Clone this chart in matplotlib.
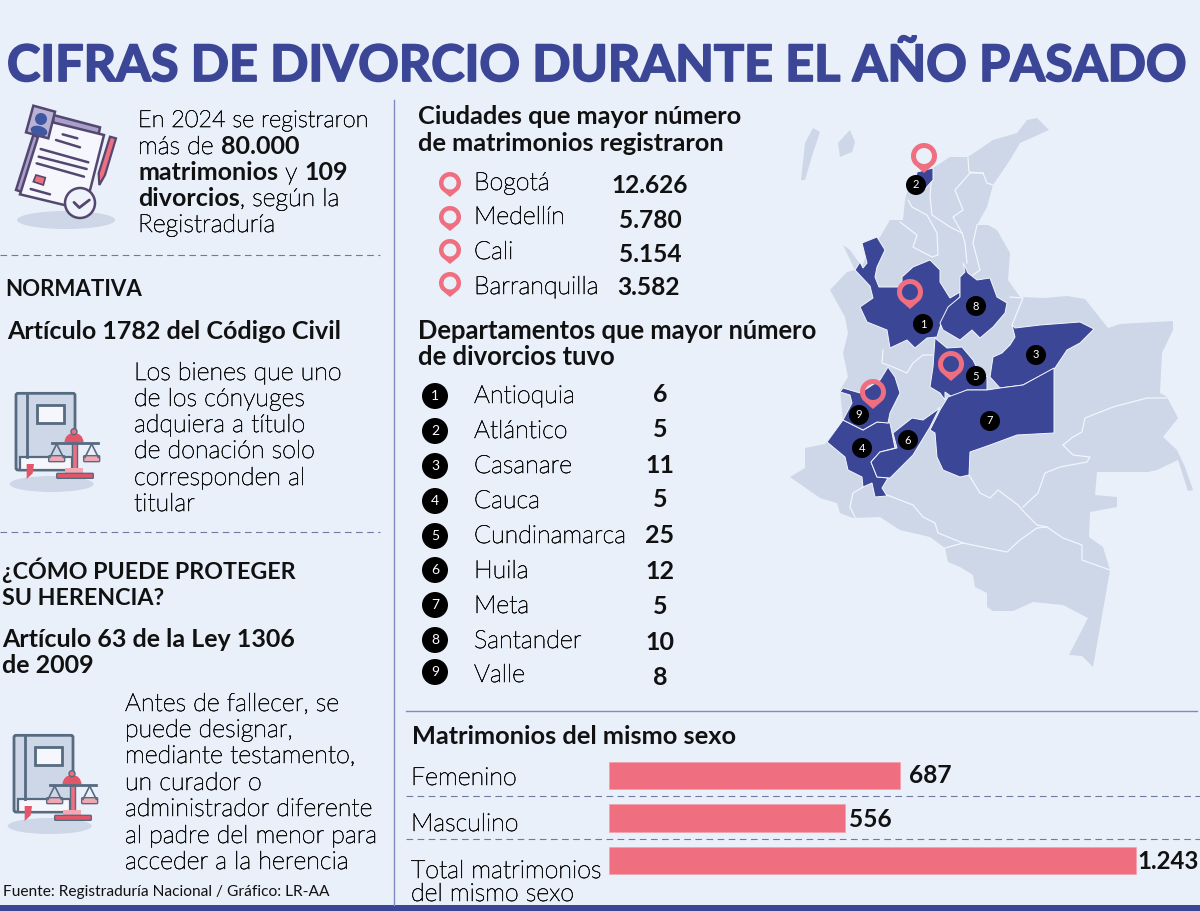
import matplotlib
matplotlib.use("Agg")
import matplotlib.pyplot as plt
import matplotlib.patheffects as pe
from matplotlib.patches import Polygon, Circle, Ellipse, Rectangle, FancyBboxPatch, Wedge, PathPatch
from matplotlib.path import Path
import numpy as np

# ------------------------------------------------------------------ data
TITLE = "CIFRAS DE DIVORCIO DURANTE EL AÑO PASADO"
cities = ["Bogotá", "Medellín", "Cali", "Barranquilla"]
city_values = ["12.626", "5.780", "5.154", "3.582"]
departments = ["Antioquia", "Atlántico", "Casanare", "Cauca", "Cundinamarca",
               "Huila", "Meta", "Santander", "Valle"]
divorces = [6, 5, 11, 5, 25, 12, 5, 10, 8]
same_sex_labels = ["Femenino", "Masculino", "Total matrimonios\ndel mismo sexo"]
same_sex_values = [687, 556, 1243]

BG = "#e9f0fa"; NAVY = "#3b4697"; LIGHT = "#cdd7e8"; PINK = "#ef6e80"; INK = "#111111"
LINEC = "#7f8bbf"; DASH = "#6f7a9e"
FAM = ["Lato", "DejaVu Sans"]

fig = plt.figure(figsize=(12, 9.11), dpi=100, facecolor=BG)
ax = fig.add_axes([0, 0, 1, 1]); ax.set_xlim(0, 1200); ax.set_ylim(911, 0); ax.axis("off")
px = 0.72

def T(x, y, s, size=25, weight="light", color=INK, ha="left", **kw):
    t = ax.text(x, y, s, fontsize=size * px, fontweight=weight, color=color, ha=ha,
                va="baseline", family=FAM, **kw)
    if weight == "light":
        t.set_path_effects([pe.withStroke(linewidth=0.45, foreground=color)])
    return t

def rich(x, y, parts, size=25):
    r = fig.canvas.get_renderer()
    for s, w in parts:
        t = T(x, y, s, size=size, weight="bold" if w else "light")
        x = t.get_window_extent(r).x1

# ------------------------------------------------------------------ frame
tt = ax.text(7, 81, TITLE, fontsize=50.3 * px, fontweight="bold", color=NAVY, ha="left", va="baseline", family=FAM)
tt.set_path_effects([pe.withStroke(linewidth=1.3, foreground=NAVY)])
ax.add_patch(Rectangle((0, 905), 1200, 6, color=NAVY, lw=0))
ax.plot([394, 394], [100, 905], color=LINEC, lw=1)
ax.plot([406, 1197], [711, 711], color=LINEC, lw=1)
for y, x0, x1 in [(255, 0, 380), (532, 0, 380), (796, 406, 1200), (839, 406, 1200)]:
    ax.plot([x0, x1], [y, y], color=DASH, lw=0.8, dashes=(6, 4))

# ------------------------------------------------------------------ left column
rich(138, 127, [("En 2024 se registraron", 0)], size=23.5)
rich(138, 154, [("más de ", 0), ("80.000", 1)])
rich(138, 180, [("matrimonios", 1), (" y ", 0), ("109", 1)])
rich(138, 206, [("divorcios", 1), (", según la", 0)])
rich(138, 232, [("Registraduría", 0)])
T(5, 296, "NORMATIVA", size=22.3, weight="bold")
T(7, 339, "Artículo 1782 del Código Civil", weight="bold")
for y, s in zip([380, 406, 432, 458, 485, 511],
                ["Los bienes que uno", "de los cónyuges", "adquiera a título",
                 "de donación solo", "corresponden al", "titular"]):
    T(134, y, s)
T(2, 579, "¿CÓMO PUEDE PROTEGER", size=23.2, weight="bold")
T(2, 605, "SU HERENCIA?", size=23.2, weight="bold")
T(2, 647, "Artículo 63 de la Ley 1306", weight="bold")
T(2, 673, "de 2009", weight="bold")
for y, s in zip([711, 737, 763, 790, 816, 843, 869],
                ["Antes de fallecer, se", "puede designar,", "mediante testamento,",
                 "un curador o", "administrador diferente", "al padre del menor para",
                 "acceder a la herencia"]):
    T(125, y, s)
T(3, 896, "Fuente: Registraduría Nacional / Gráfico: LR-AA", size=15.5, weight="normal")

# ------------------------------------------------------------------ middle lists
T(418, 124, "Ciudades que mayor número", size=25.4, weight="bold")
T(418, 151, "de matrimonios registraron", size=25.4, weight="bold")

def pin(cx, cy, r=13, tip=17, hole=8):
    """hollow location marker"""
    outer = [(cx + r * np.cos(t), cy + r * np.sin(t)) for t in np.linspace(np.deg2rad(140), np.deg2rad(400), 60)]
    outer.append((cx, cy + tip))
    ih = [(cx + hole * np.cos(t), cy + hole * np.sin(t)) for t in np.linspace(2 * np.pi, 0, 50)]
    verts = outer + [outer[0]] + ih + [ih[0]]
    codes = [Path.MOVETO] + [Path.LINETO] * (len(outer) - 1) + [Path.CLOSEPOLY] + \
            [Path.MOVETO] + [Path.LINETO] * (len(ih) - 1) + [Path.CLOSEPOLY]
    ax.add_patch(PathPatch(Path(verts, codes), fc=PINK, ec="none", zorder=8))

city_y = [190, 224, 259, 294]
val_y = [193, 228, 262, 295]
val_x = [611, 619, 619, 617]
pin_y = [183, 217, 250, 283]
for c, v, y, vy, vx, py in zip(cities, city_values, city_y, val_y, val_x, pin_y):
    T(474, y, c)
    T(vx, vy, v, size=24.5, weight="bold")
    pin(450, py, r=11, tip=14, hole=6.5)

T(418, 339, "Departamentos que mayor número", size=25.6, weight="bold")
T(418, 365, "de divorcios tuvo", size=25.6, weight="bold")
d_y = [403, 438, 473, 508, 543, 578, 613, 648, 682]
dv_y = [402, 437, 473, 507, 543, 579, 614, 650, 685]
dc_y = [396, 431, 466, 501, 536, 570, 605, 640, 672]
for i, (d, v, y, vy, cy) in enumerate(zip(departments, divorces, d_y, dv_y, dc_y)):
    T(474, y, d)
    T(660, vy, str(v), weight="bold", ha="center")
    ax.add_patch(Circle((435, cy), 13, fc="black", ec="none"))
    ax.text(435, cy, str(i + 1), color="white", fontsize=10, ha="center", va="center", family=FAM)

# ------------------------------------------------------------------ map (traced silhouette)
country = [(1037,118),(1049,130),(1020,143),(1010,160),(993,185),(987,207),(977,225),(988,225),(997,230),
 (1010,253),(1008,280),(1020,297),(1045,298),(1067,296),(1085,299),(1108,328),(1120,324),(1173,321),(1173,330),
 (1162,353),(1160,393),(1167,397),(1178,418),(1163,437),(1177,450),(1185,467),(1193,490),(1188,491),(1178,460),
 (1157,470),(1148,472),(1097,472),(1095,495),(1117,497),(1117,507),(1090,512),(1089,537),(1103,547),(1110,570),
 (1093,667),(1082,656),(1069,655),(1088,618),(1063,605),(1033,602),(1013,611),(993,611),(987,607),(987,593),
 (975,587),(973,575),(960,567),(948,562),(945,548),(930,537),(900,530),(880,517),(853,518),(840,513),(837,503),
 (820,498),(790,477),(805,468),(805,448),(825,444),(843,420),(840,390),(848,377),(843,353),(848,333),(845,317),
 (830,290),(847,272),(855,270),(843,245),(850,250),(862,267),(868,250),(880,237),(890,220),(903,220),(905,200),
 (908,188),(917,172),(933,168),(950,157),(968,157),(993,140),(1017,133),(1027,120)]
island_a = [(801,180),(805,180),(813,153),(820,132),(813,128),(805,143)]
island_b = [(838,143),(850,130),(855,142),(852,152),(840,157)]
region_1 = [(877,237),(885,250),(877,267),(875,277),(879,287),(902,287),(902,277),(913,267),(930,260),(940,270),
 (940,282),(945,290),(950,298),(960,292),(960,297),(947,310),(940,327),(937,337),(927,338),(915,348),(907,340),
 (890,348),(887,330),(867,322),(860,307),(873,298),(870,286),(855,270),(860,262),(863,268),(867,263),(862,243)]
region_2 = [(917,172),(933,168),(933,180),(925,189),(915,185)]
region_3 = [(1012,325),(1015,328),(1040,325),(1080,322),(1094,329),(1080,343),(1067,350),(1055,368),(1023,385),
 (1000,388),(990,377),(993,357),(1002,353),(1010,345),(1015,337)]
region_4 = [(827,442),(843,420),(863,430),(877,422),(890,423),(895,448),(880,452),(871,462),(877,477),(888,478),
 (882,488),(887,496),(875,497),(872,483),(863,487),(862,477),(848,470),(845,457)]
region_5 = [(935,338),(947,348),(962,347),(973,360),(977,368),(987,377),(987,390),(967,390),(952,397),(945,392),
 (945,400),(940,393),(930,387),(933,367)]
region_6 = [(893,433),(912,418),(923,420),(937,410),(940,407),(930,427),(913,455),(890,478),(877,477),(871,462),
 (880,452),(897,448)]
region_7 = [(1054,368),(1054,433),(1017,435),(990,445),(970,452),(969,475),(960,477),(943,470),(937,457),(935,433),
 (930,430),(940,410),(948,397),(967,390),(987,390),(1000,388),(1023,385)]
region_8 = [(963,263),(968,273),(977,280),(990,278),(997,297),(1007,303),(1005,313),(993,327),(980,338),(972,330),
 (960,340),(943,330),(940,323),(948,307),(960,297),(960,277),(965,272)]
region_9 = [(888,367),(895,377),(900,393),(890,413),(888,423),(877,422),(863,430),(843,420),(852,403),(850,395),
 (840,392),(843,388),(860,393),(880,380),(885,372)]
borders = [
 [(968,158),(969,172),(983,173),(987,183),(993,185)],
 [(932,170),(930,197),(932,215),(950,227),(962,233)],
 [(983,173),(970,173),(955,190),(963,210),(953,217),(962,233),(965,243),(967,263)],
 [(908,200),(912,207),(927,215),(937,233),(938,255),(932,257),(913,247),(917,235),(900,222)],
 [(977,225),(973,243),(980,270),(973,275)],
 [(1010,297),(1023,298),(1012,325)],
 [(883,350),(882,363),(893,367),(907,373),(913,363),(923,355),(933,355)],
 [(1063,445),(1073,437),(1082,432),(1085,418),(1113,407),(1147,398),(1167,398)],
 [(1063,445),(1073,455),(1090,457),(1087,462),(1060,467),(1045,473),(1038,493),(1023,507)],
 [(969,475),(980,493),(990,498),(998,490),(1018,505),(1025,513),(1037,525),(1047,527),(1063,538),(1082,545),(1082,560),(1110,570)],
 [(945,548),(963,543),(987,548),(1007,552),(1020,540),(1037,528),(1047,527)],
 [(887,495),(913,505),(923,517),(935,523),(938,533),(963,543)],
 [(863,487),(853,493),(850,507),(855,517)],
]
labels_xy = [(923,324),(916,185),(1036,355),(862,448),(976,376),(908,440),(990,421),(976,306),(859,415)]
pins_xy = [(924,156),(910,292),(951,364),(873,392)]

ax.add_patch(Polygon(country, fc=LIGHT, ec="none", zorder=2))
for isl in (island_a, island_b):
    ax.add_patch(Polygon(isl, fc=LIGHT, ec="none", zorder=2))
for b in borders:
    xs, ys = zip(*b)
    ax.plot(xs, ys, color="#f2f6fc", lw=0.9, zorder=3)
for reg in (region_1, region_2, region_3, region_4, region_5, region_6, region_7, region_8, region_9):
    ax.add_patch(Polygon(reg, fc=NAVY, ec="#f2f6fc", lw=0.7, zorder=4))
for i, (x, y) in enumerate(labels_xy):
    ax.add_patch(Circle((x, y), 10, fc="black", ec="none", zorder=6))
    ax.text(x, y, str(i + 1), color="white", fontsize=8, ha="center", va="center", family=FAM, zorder=7)
for x, y in pins_xy:
    pin(x, y)

# ------------------------------------------------------------------ same-sex bars (real data axis)
T(412, 744, "Matrimonios del mismo sexo", size=25.4, weight="bold")
bax = fig.add_axes([609 / 1200, 1 - 881 / 911, 591 / 1200, (881 - 755) / 911])
bax.set_facecolor("none"); bax.axis("off")
bax.set_xlim(0, 591 / 0.4241); bax.set_ylim(2.482, -0.482)
bars = bax.barh(range(3), same_sex_values, height=0.647, color=PINK, edgecolor="#f3a0ab", lw=0.5)
T(411, 785, same_sex_labels[0]); T(411, 831, same_sex_labels[1])
l1, l2 = same_sex_labels[2].split("\n")
T(411, 878, l1); T(411, 901, l2)
val_txt = [f"{v:,}".replace(",", ".") for v in same_sex_values]
T(909, 783, val_txt[0], size=24.5, weight="bold"); T(849, 827, val_txt[1], size=24.5, weight="bold")
T(1137, 869, val_txt[2], size=24, weight="bold")

# ------------------------------------------------------------------ icons
def z3(pts): return [(x / 3, 95 + y / 3) for x, y in pts]
DK = "#54476f"
ax.add_patch(Ellipse((66, 220), 98, 18, fc=LIGHT, ec="none"))
ax.add_patch(Polygon(z3([(100,120),(48,285),(70,292),(122,130)]), fc="#a99fcb", ec=DK, lw=1.8))
ax.add_patch(Polygon(z3([(160,60),(300,97),(296,118),(160,85)]), fc="#a99fcb", ec=DK, lw=1.8))
ax.add_patch(Polygon(z3([(130,75),(312,120),(255,345),(60,298)]), fc="#f6f7fc", ec=DK, lw=1.8))
ax.add_patch(Polygon(z3([(100,32),(165,50),(145,130),(78,112)]), fc="#b8b2d4", ec=DK, lw=1.8))
ax.add_patch(Circle((41, 119), 6, fc="#3f56a0", ec="none"))
ax.add_patch(Ellipse((39, 131), 17, 10, angle=15, fc="#3f56a0", ec="none"))
for a, b in [((188,118),(232,130)),((168,135),(240,157)),((122,162),(265,202)),((116,185),(260,222)),((110,205),(252,245)),((92,282),(150,298))]:
    p, q = z3([a, b])
    ax.plot([p[0], q[0]], [p[1], q[1]], color=DK, lw=1.8, solid_capstyle="round")
ax.add_patch(Polygon(z3([(108,240),(136,248),(130,270),(100,260)]), fc=PINK, ec=DK, lw=1.2))
ax.add_patch(Polygon(z3([(330,125),(348,130),(315,240),(298,270),(296,235)]), fc=PINK, ec=DK, lw=1.6))
ax.add_patch(Circle((80, 203), 15, fc="#eef2fa", ec=DK, lw=1.8))
p = z3([(222,322),(238,338),(268,315)])
ax.plot(*zip(*p), color=DK, lw=2, solid_capstyle="round")

def book(dx, dy):
    def z(x, y): return (dx + x / 3, dy + y / 3)
    S = "#566a80"
    ax.add_patch(Ellipse(z(155, 312), 84, 16, fc=LIGHT, ec="none"))
    x0, y0 = z(48, 40); x1, y1 = z(225, 270)
    ax.add_patch(FancyBboxPatch((x0 + 2, y0 + 2), x1 - x0 - 4, y1 - y0 - 4, boxstyle="round,pad=2", fc=LIGHT, ec=S, lw=2))
    ax.plot(*zip(z(82, 42), z(82, 232)), color=S, lw=2)
    x0, y0 = z(60, 232); x1, y1 = z(215, 270)
    ax.add_patch(Rectangle((x0, y0), x1 - x0, y1 - y0, fc="#f6f7fc", ec=S, lw=1.6))
    x0, y0 = z(112, 75); x1, y1 = z(193, 128)
    ax.add_patch(Rectangle((x0, y0), x1 - x0, y1 - y0, fc="#f6f7fc", ec=S, lw=2))
    ax.add_patch(Polygon([z(80, 252), z(102, 252), z(98, 280), z(80, 297)], fc="#e2566a", ec="none"))
    x0, y0 = z(215, 170); x1, y1 = z(232, 270)
    ax.add_patch(Rectangle((x0, y0), x1 - x0, y1 - y0, fc=PINK, ec=S, lw=1))
    ax.add_patch(Wedge(z(222, 187), 9.5, 180, 360, fc="#e2566a", ec="none"))
    ax.add_patch(Circle(z(222, 155), 3, fc=PINK, ec=S, lw=1))
    ax.plot(*zip(z(155, 188), z(295, 188)), color=S, lw=2)
    for cx in (170, 275):
        ax.plot(*zip(z(cx, 192), z(cx - 20, 232)), color=S, lw=1.2)
        ax.plot(*zip(z(cx, 192), z(cx + 20, 232)), color=S, lw=1.2)
        x0, y0 = z(cx - 24, 230)
        ax.add_patch(FancyBboxPatch((x0 + 1, y0), 14, 4, boxstyle="round,pad=1", fc="#f2a8b2", ec=S, lw=1))
    x0, y0 = z(195, 265); x1, y1 = z(250, 280)
    ax.add_patch(Rectangle((x0, y0), x1 - x0, y1 - y0, fc="#f2a8b2", ec="none"))
    x0, y0 = z(170, 280); x1, y1 = z(280, 295)
    ax.add_patch(FancyBboxPatch((x0 + 1, y0 + 1), x1 - x0 - 2, y1 - y0 - 2, boxstyle="round,pad=1", fc="#e2566a", ec=S, lw=1))

book(0, 380)
book(-2, 722)

fig.savefig("out.png", dpi=100, facecolor=BG)
